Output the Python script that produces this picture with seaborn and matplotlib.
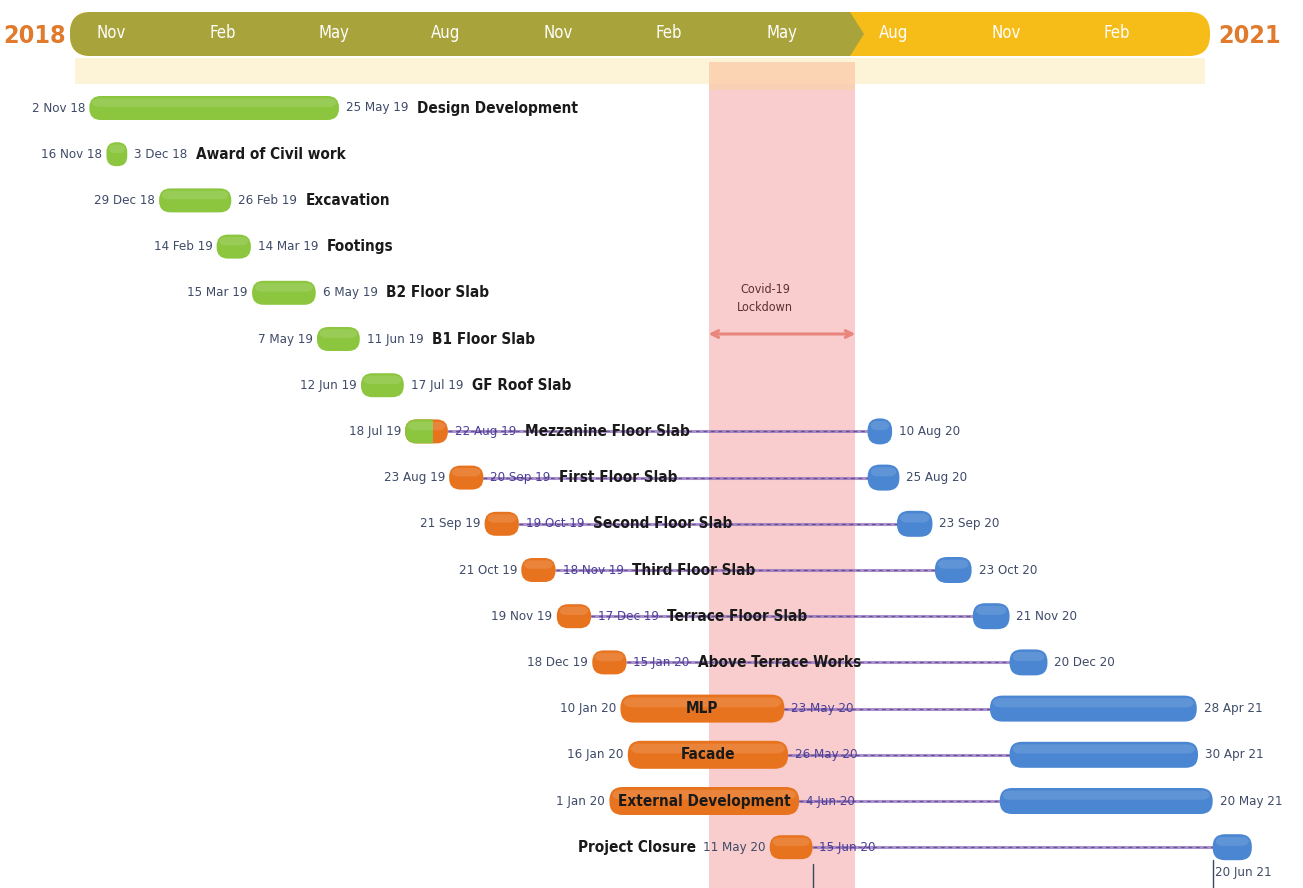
import numpy as np
import pandas as pd
import matplotlib
matplotlib.use("Agg")
import matplotlib.pyplot as plt
import matplotlib.dates as mdates
from matplotlib.patches import FancyBboxPatch, Polygon, Rectangle
from matplotlib import font_manager
import seaborn as sns

tasks = ["Design Development", "Award of Civil work", "Excavation", "Footings",
         "B2 Floor Slab", "B1 Floor Slab", "GF Roof Slab", "Mezzanine Floor Slab",
         "First Floor Slab", "Second Floor Slab", "Third Floor Slab",
         "Terrace Floor Slab", "Above Terrace Works", "MLP", "Facade",
         "External Development", "Project Closure"]

plan_start = ["2018-11-02", "2018-11-16", "2018-12-29", "2019-02-14", "2019-03-15",
              "2019-05-07", "2019-06-12", "2019-07-18", "2019-08-23", "2019-09-21",
              "2019-10-21", "2019-11-19", "2019-12-18", "2020-01-10", "2020-01-16",
              "2020-01-01", "2020-05-11"]
plan_end = ["2019-05-25", "2018-12-03", "2019-02-26", "2019-03-14", "2019-05-06",
            "2019-06-11", "2019-07-17", "2019-08-22", "2019-09-20", "2019-10-19",
            "2019-11-18", "2019-12-17", "2020-01-15", "2020-05-23", "2020-05-26",
            "2020-06-04", "2020-06-15"]

start_lbl = ["2 Nov 18", "16 Nov 18", "29 Dec 18", "14 Feb 19", "15 Mar 19", "7 May 19",
             "12 Jun 19", "18 Jul 19", "23 Aug 19", "21 Sep 19", "21 Oct 19", "19 Nov 19",
             "18 Dec 19", "10 Jan 20", "16 Jan 20", "1 Jan 20", "11 May 20"]
end_lbl = ["25 May 19", "3 Dec 18", "26 Feb 19", "14 Mar 19", "6 May 19", "11 Jun 19",
           "17 Jul 19", "22 Aug 19", "20 Sep 19", "19 Oct 19", "18 Nov 19", "17 Dec 19",
           "15 Jan 20", "23 May 20", "26 May 20", "4 Jun 20", "15 Jun 20"]

# revised (post lockdown) bars, only from Mezzanine onwards
rev_start = [None] * 7 + ["2020-07-30", "2020-07-30", "2020-08-23", "2020-09-23",
                          "2020-10-24", "2020-11-23", "2020-11-07", "2020-11-23",
                          "2020-11-15", "2021-05-08"]
rev_end = [None] * 7 + ["2020-08-19", "2020-08-25", "2020-09-21", "2020-10-23",
                        "2020-11-23", "2020-12-24", "2021-04-25", "2021-04-26",
                        "2021-05-08", "2021-06-09"]
rev_lbl = [None] * 7 + ["10 Aug 20", "25 Aug 20", "23 Sep 20", "23 Oct 20", "21 Nov 20",
                        "20 Dec 20", "28 Apr 21", "30 Apr 21", "20 May 21", "20 Jun 21"]

done_until = "2019-08-10"
lockdown = ("2020-03-22", "2020-07-20")
header_months = ["2018-11-01", "2019-02-01", "2019-05-01", "2019-08-01", "2019-11-01",
                 "2020-02-01", "2020-05-01", "2020-08-01", "2020-11-01", "2021-02-01"]
header_lbl = ["Nov", "Feb", "May", "Aug", "Nov", "Feb", "May", "Aug", "Nov", "Feb"]

# ---- style ----
sns.set_theme(style="white")
names = {f.name for f in font_manager.fontManager.ttflist}
if "Liberation Sans Narrow" in names:
    NARROW = dict(family=["Liberation Sans Narrow", "DejaVu Sans"])
else:
    NARROW = dict(family=["DejaVu Sans"], stretch="condensed")
plt.rcParams["font.family"] = ["Liberation Sans", "DejaVu Sans"]

GREEN = "#8cc63f"
ORANGE = "#e8731f"
BLUE = "#4a86d2"
DATECOL = "#3f4b68"

W, H = 1303, 888
fig = plt.figure(figsize=(W / 100, H / 100), dpi=100)
ax = fig.add_axes([0, 0, 1, 1])

d0 = mdates.date2num(pd.Timestamp("2018-08-21"))
px_day = 1.2237
row0, row_px = 108, 46.2


def dn(s):
    return mdates.date2num(pd.Timestamp(s))


def xp(p):  # pixel column -> date number
    return d0 + p / px_day


def yp(p):  # pixel row -> row units
    return (p - row0) / row_px


aspect = px_day / row_px


def pill(xs, xe, y, h_px, color, z=3, clip=None, shine=True):
    h = h_px / row_px
    w_px = (xe - xs) * px_day
    r = min(h_px, w_px) / 2 * 0.95 / px_day
    p = FancyBboxPatch((xs, y - h / 2), xe - xs, h,
                       boxstyle=f"round,pad=0,rounding_size={r}",
                       mutation_aspect=aspect, fc=color, ec="none", zorder=z)
    ax.add_patch(p)
    parts = [p]
    if shine:
        # soft highlight on the upper half
        hl = FancyBboxPatch((xs + 0.2 * r, y - h / 2 + h * 0.1), (xe - xs) - 0.4 * r, h * 0.35,
                            boxstyle=f"round,pad=0,rounding_size={r * 0.6}",
                            mutation_aspect=aspect, fc="white", ec="none", alpha=0.12,
                            zorder=z + 0.1)
        ax.add_patch(hl)
        parts.append(hl)
    if clip is not None:
        for a in parts:
            a.set_clip_path(clip)
    return p


# ---- connector lines (planned end -> revised start) ----
rows = []
for i, t in enumerate(tasks):
    if rev_start[i] is None:
        continue
    rows.append(dict(task=t, x=dn(plan_end[i]), y=i))
    rows.append(dict(task=t, x=dn(rev_start[i]), y=i))
conn = pd.DataFrame(rows)
sns.lineplot(data=conn, x="x", y="y", units="task", estimator=None, sort=False,
             color="#8f6cc2", lw=2.2, alpha=0.75, ax=ax, zorder=2, legend=False)
sns.lineplot(data=conn, x="x", y="y", units="task", estimator=None, sort=False,
             color="#2f2450", lw=0.9, alpha=0.55, linestyle=(0, (3, 3)), ax=ax,
             zorder=2.1, legend=False)

# ---- lockdown band ----
ax.axvspan(dn(lockdown[0]), dn(lockdown[1]), ymin=0, ymax=1 - 62 / H,
           color="#f9c5c5", alpha=0.85, zorder=0, lw=0)
ax.axvspan(dn(lockdown[0]), dn(lockdown[1]), ymin=1 - 90 / H, ymax=1 - 62 / H,
           color="#fbd2ae", alpha=0.8, zorder=0.1, lw=0)
ax.text((dn(lockdown[0]) + dn(lockdown[1])) / 2 - 14, yp(298), "Covid-19\nLockdown",
        ha="center", va="center", fontsize=9, color="#5b3030", linespacing=1.5,
        zorder=5, **NARROW)
ax.annotate("", xy=(dn(lockdown[1]), yp(334)), xytext=(dn(lockdown[0]), yp(334)),
            arrowprops=dict(arrowstyle="<->", color="#e8857c", lw=2.2,
                            shrinkA=0, shrinkB=0), zorder=5)

# ---- header timeline ----
ax.add_patch(Rectangle((xp(75), yp(84)), xp(1205) - xp(75), yp(58) - yp(84),
                       fc="#fdf0c8", ec="none", alpha=0.7, zorder=0.05))
pill(xp(70), xp(1210), yp(34), 44, "#f6bc18", z=1, shine=False)
olive = "#a9a33b"
pill(xp(70), xp(845), yp(34), 44, olive, z=1.3, shine=False)
ax.add_patch(Polygon([(xp(815), yp(12)), (xp(850), yp(12)), (xp(864), yp(34)),
                      (xp(850), yp(56)), (xp(815), yp(56))],
                     closed=True, fc=olive, ec="none", zorder=1.35))
for m, lab in zip(header_months, header_lbl):
    ax.text(dn(m) + 7, yp(33), lab, ha="left", va="center", color="white",
            fontsize=12, zorder=4, **NARROW)
ax.text(xp(35), yp(36), "2018", ha="center", va="center", color="#e07a2c",
        fontsize=18, fontweight="bold", **NARROW)
ax.text(xp(1250), yp(36), "2021", ha="center", va="center", color="#e07a2c",
        fontsize=18, fontweight="bold", **NARROW)

# ---- task rows ----
split = dn(done_until)
in_bar = {"MLP", "Facade", "External Development"}
for i, t in enumerate(tasks):
    xs, xe = dn(plan_start[i]), dn(plan_end[i])
    hpx = 28 if t in in_bar else 24
    if xe <= split:
        pill(xs, xe, i, hpx, GREEN)
    elif xs >= split:
        pill(xs, xe, i, hpx, ORANGE)
    else:
        pill(xs, xe, i, hpx, ORANGE)
        clip = Rectangle((xs - 20, i - 1), split - xs + 20, 2, transform=ax.transData)
        pill(xs, xe, i, hpx, GREEN, z=3.3, clip=clip)

    st = ax.annotate(start_lbl[i], xy=(xs, i), xytext=(-3, 0), textcoords="offset points",
                     ha="right", va="center", fontsize=9.5, color=DATECOL, zorder=6, **NARROW)
    ecol = DATECOL if rev_start[i] is None else "#4b3f98"
    et = ax.annotate(end_lbl[i], xy=(xe, i), xytext=(5, 0), textcoords="offset points",
                     ha="left", va="center", fontsize=9.5, color=ecol, zorder=6, **NARROW)
    if t in in_bar:
        ax.text((xs + xe) / 2, i, t, ha="center", va="center", fontsize=11,
                fontweight="bold", color="#1a1a1a", zorder=6, **NARROW)
    elif t == "Project Closure":
        ax.annotate(t, xy=(0, 0.5), xycoords=st, xytext=(-5, 0), textcoords="offset points",
                    ha="right", va="center", fontsize=11, fontweight="bold",
                    color="#1a1a1a", zorder=6, **NARROW)
    else:
        ax.annotate(t, xy=(1, 0.5), xycoords=et, xytext=(6, 0), textcoords="offset points",
                    ha="left", va="center", fontsize=11, fontweight="bold",
                    color="#1a1a1a", zorder=6, **NARROW)

    if rev_start[i] is not None:
        rs, re_ = dn(rev_start[i]), dn(rev_end[i])
        pill(rs, re_, i, 26, BLUE)
        if t == "Project Closure":
            ax.text(rs + 2, yp(872), rev_lbl[i], ha="left", va="center", fontsize=9.5,
                    color=DATECOL, zorder=6, **NARROW)
            ax.plot([rs, rs], [yp(860), yp(888)], color="#34495e", lw=1, zorder=4)
            ax.plot([xe, xe], [yp(864), yp(888)], color="#34495e", lw=1, zorder=4)
        else:
            ax.annotate(rev_lbl[i], xy=(re_, i), xytext=(5, 0), textcoords="offset points",
                        ha="left", va="center", fontsize=9.5, color=DATECOL, zorder=6,
                        **NARROW)

ax.set_xlim(d0, xp(W))
ax.set_ylim(yp(H), yp(0))
ax.axis("off")
fig.savefig("out.png", dpi=100, facecolor="white")
